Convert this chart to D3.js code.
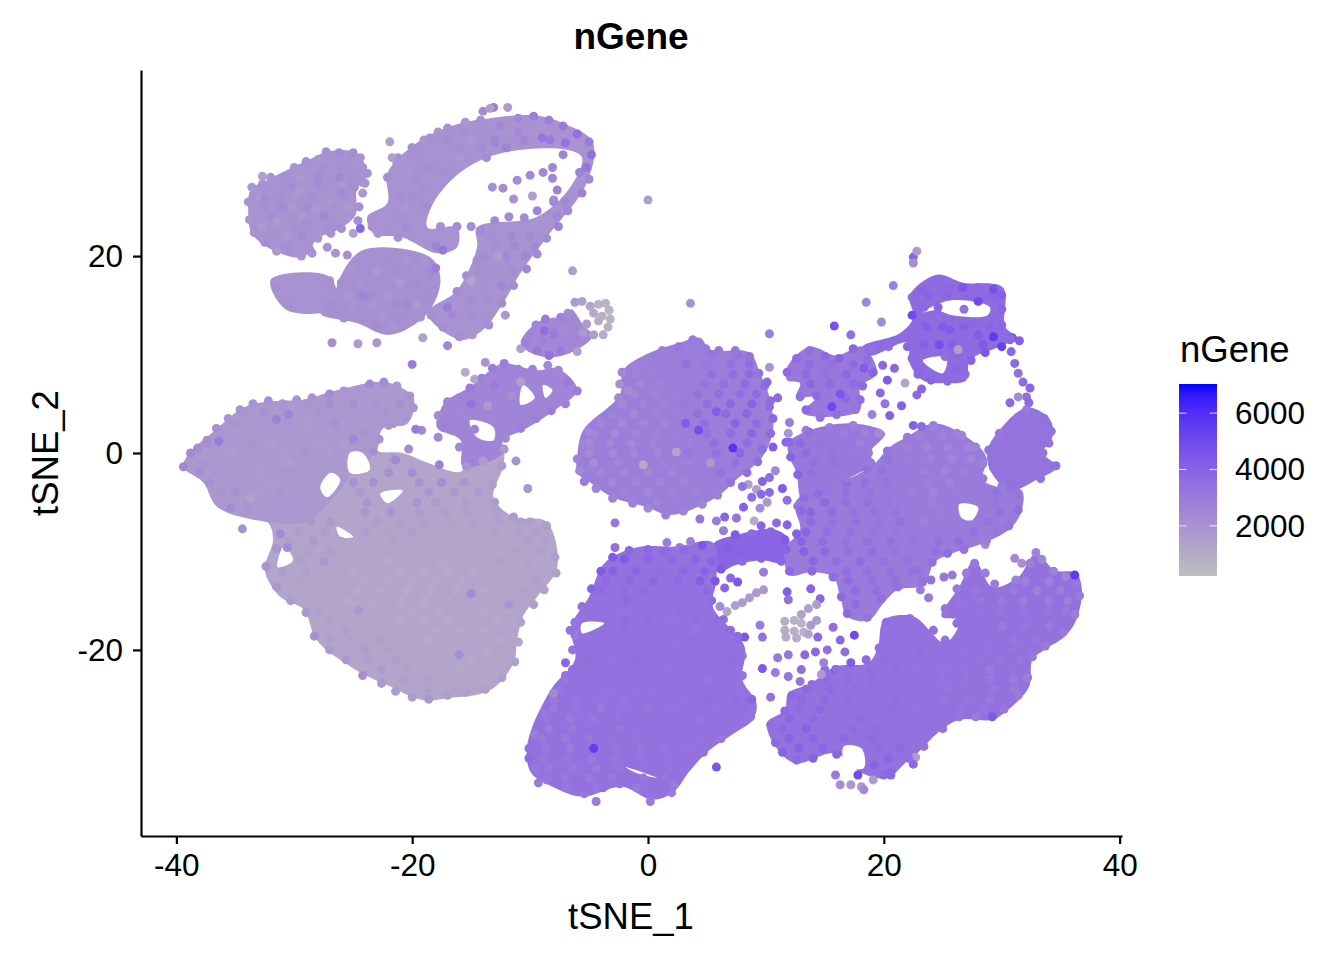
<!DOCTYPE html>
<html>
<head>
<meta charset="utf-8">
<script src="https://cdn.jsdelivr.net/npm/d3@7"></script>
<style>
  body { margin: 0; background: #fff; }
  text { font-family: "Liberation Sans", Arial, sans-serif; fill: #000; }
</style>
</head>
<body>
<svg></svg>
<script>
const w = 1344;
const h = 960;

// Tick labels
const xTicks = [-40, -20, 0, 20, 40];
const yTicks = [-20, 0, 20];
const legendTicks = [2000, 4000, 6000];

// The cells overlap too heavily to read one by one, so the dense parts of the
// map are cluster outlines (tSNE_1, tSNE_2) filled at the cluster's typical nGene
const outlineGenes = [2050, 2050, 2100, 2050, 2500, 1300, 1800, 2600, 2900, 3100, 3650, 3900, 3000, 3100, 3300, 3400, 3400];
const outlines = [
  [[-33.7,26.7],[-32,27.9],[-28.9,29.7],[-27.2,30.6],[-24.8,30.5],[-23.8,28.4],[-24.7,26.7],[-24.8,24.2],[-26.4,22.6],[-28,21.8],[-29.2,19.9],[-31.8,20.6],[-33.6,22.3],[-33.9,24.4]],
  [[-32,17.6],[-27,17.9],[-26.5,14.8],[-30.6,14.5]],
  [[-26.1,17.9],[-24.2,20.6],[-18.5,19.9],[-17.6,17.6],[-18.7,14.2],[-21.9,12],[-24.7,13.2],[-27.8,14.2],[-26.7,15.8]],
  [[-22.1,28.4],[-19.6,31.5],[-16.5,33.3],[-13.4,34],[-9.7,34.3],[-7.2,33.5],[-4.7,31.6],[-5.2,27.4],[-8.6,21.9],[-10.8,18.3],[-12.3,15.2],[-14,12.5],[-15.9,11.5],[-18.7,14.2],[-16.2,16.5],[-14.5,20.9],[-14.5,22.9],[-9.4,24],[-6.6,27],[-5.6,30],[-6.9,30.8],[-12.3,30.5],[-15.7,28.7],[-18.2,25.4],[-18.7,22.9],[-16.2,22.9],[-16.2,20.9],[-17.9,20.3],[-20.8,21.9],[-23.3,22.3],[-23.8,24],[-22.1,25.4]],
  [[-10.8,11.2],[-9.2,13.4],[-6.9,13.9],[-6.5,14.6],[-5.5,13],[-4.7,11.9],[-6,10.5],[-8.1,9.7],[-10,10.2]],
  [[-39.4,-1.4],[-38.8,0.1],[-36.9,2.1],[-34.3,4.6],[-32.3,5.2],[-29.2,5.4],[-26.9,6.2],[-23,7.2],[-21.9,7.1],[-19.9,5.6],[-20.4,3],[-22.5,2.5],[-23,0.3],[-20.8,0],[-18.7,-1],[-15.9,-1.9],[-15.1,-0.4],[-13.6,0.6],[-12.3,0.3],[-12.3,-1.4],[-13.1,-4.5],[-11.4,-6.5],[-8.6,-7],[-7.7,-11.6],[-9.4,-14.6],[-10.6,-16.6],[-11.1,-19],[-11.4,-21.3],[-13.4,-24.1],[-17,-24.9],[-19.1,-25.1],[-22.1,-23.6],[-25.1,-21.8],[-28.1,-19],[-29.2,-15.9],[-31.2,-14.6],[-32.5,-11.9],[-31.8,-8.8],[-32.3,-7],[-36.5,-5.5],[-37.7,-3]],
  [[-39.4,-1.4],[-38.8,0.1],[-36.9,2.1],[-34.3,4.6],[-32.3,5.2],[-29.2,5.4],[-26.9,6.2],[-23,7.2],[-21.9,7.1],[-19.9,5.6],[-20.4,3],[-22.5,2.5],[-23,0.3],[-25,-2],[-27,-5],[-29,-7],[-32.3,-7],[-36.5,-5.5],[-37.7,-3]],
  [[-17,5.4],[-15.1,6.7],[-13.6,8.2],[-12.3,9.1],[-9.4,8.4],[-7.7,8.6],[-6,6.4],[-8.1,4.2],[-10.6,2.3],[-12.3,1.3],[-12.3,0],[-15.7,-1.4],[-15.9,1.3],[-17.9,2.6],[-17.6,4.4]],
  [[-6,-0.4],[-5.5,2.3],[-2.4,5.9],[-2.1,8.4],[0.2,10.2],[2.7,11.2],[4.4,11.7],[5.3,10.5],[8.6,10.2],[9.5,8.1],[10.3,5.7],[10.6,2.3],[9.7,-0.4],[7.5,-2.7],[5.8,-4.5],[1.9,-6.3],[-0.1,-5.5],[-3,-4.5],[-4.9,-3],[-6,-2]],
  [[11.8,8.7],[13.7,10.8],[16,9.9],[18.2,10.8],[19.4,8.1],[18,6.7],[18,4.4],[16,3.7],[13.1,4.1],[14.3,5.7],[12.6,5.7],[12.9,7.1],[11.8,7.4]],
  [[22.2,16],[24.5,18.1],[26.7,17.3],[30.1,16.8],[30.3,12.8],[31.3,11.7],[29.8,10.8],[27.3,9.4],[27,7.4],[25.3,7.1],[23.3,7.4],[22.2,9.1],[22,11.2],[18.8,9.9],[18.2,10.8],[21.4,12.2],[22.5,13.8]],
  [[5.5,-9.3],[7.6,-8.3],[10.8,-7.8],[12,-8.9],[11.6,-11.1],[9.5,-10.9],[7.4,-11.4],[5.9,-12.1]],
  [[12.6,-4.8],[16.9,-2.7],[19.1,-1.2],[20.5,0.6],[21.9,1.6],[24.2,3],[26.4,2.1],[28.7,-0.4],[28.4,-2.7],[29.8,-3.5],[31.7,-3.8],[31.7,-5.8],[30.8,-7.6],[28.6,-9.1],[25.8,-10.2],[24.3,-11.1],[23.4,-13.4],[21.2,-13.9],[20,-15.2],[18.7,-17],[16.9,-16.6],[16.3,-14.6],[15.7,-12.6],[13.8,-12.1],[12,-12.4],[11.6,-9.8],[12.9,-7.8],[12.5,-5.8]],
  [[11.9,1],[13.7,2.3],[17.4,3],[20.1,2],[18.8,0],[19.1,-1],[16.9,-2.7],[15.2,-4.1],[13.1,-4.8],[12.6,-2],[12,-0.4]],
  [[29.6,2],[32.1,4.6],[34.1,3.4],[34.3,1.6],[33.5,0],[34.7,-1.4],[33,-2.7],[30.7,-3.8],[29,-1.7],[28.8,0.3]],
  [[-10.3,-30.5],[-9.9,-28.1],[-8.1,-23.8],[-6.2,-21],[-6.5,-17.6],[-5,-14.6],[-3.7,-11.2],[-1,-9.6],[2.4,-9.5],[5.5,-9.1],[5.8,-12.9],[5.5,-15.6],[8.2,-19.7],[8,-23],[9.2,-25.4],[8.9,-27.1],[7.4,-28.4],[5.2,-30.2],[3.6,-32.2],[2.1,-34.5],[0.3,-35.2],[-2.2,-33.9],[-5.6,-34.9],[-8.1,-33.9],[-9.9,-32.5]],
  [[20,-17],[22.5,-16.6],[25.2,-19.3],[26.4,-17],[24.9,-16.6],[26.4,-13.6],[27.7,-10.9],[29.2,-13.6],[31.4,-12.6],[32.9,-10.2],[34.5,-11.9],[36.3,-12.2],[36.8,-13.9],[36.3,-17],[35.3,-18.7],[33.6,-20],[32.6,-21],[32.3,-23.8],[30.2,-26.4],[29.2,-27.1],[26.4,-27.1],[24.6,-28.4],[23.1,-30.2],[21.8,-31.5],[20.3,-33],[18.1,-32.5],[15.9,-30.5],[12.5,-31.5],[10.8,-29.8],[10.1,-27.4],[11.6,-26.1],[11.9,-24.4],[13.8,-23.4],[15.9,-21.7],[18.7,-21.3],[19.5,-19.7]]
];

// Empty patches inside the clusters
const gaps = [
  [[-26.9,-2],[-26.1,-2.7],[-27.2,-4.5],[-27.8,-3.5]], [[-25.3,0],[-24.2,0],[-23.6,-1.7],[-25.3,-2]],
  [[-26.4,-7.5],[-25,-8.5],[-26.1,-8.5]], [[-22.7,-4.1],[-20.8,-3.8],[-22.1,-5.1]], [[-30.9,-9.5],[-30.1,-10.9],[-31.4,-11.6]],
  [[-15.1,3.3],[-13.1,2.6],[-13.1,1.3],[-14.5,1.6]], [[-10.6,6.9],[-9.6,5.6],[-10.8,4.9]], [[-8.9,6.9],[-8.1,6.4],[-8.7,5.6]],
  [[-17.4,19.3],[-16.8,17.6],[-17,16]], [[26.4,-5.2],[28,-5.5],[27.5,-6.8],[26.6,-6.6]], [[-5.6,-17.3],[-3.7,-17.3],[-5.6,-18.3]],
  [[-1.9,-31.9],[0.8,-33],[-1,-32.5]], [[16.6,-29.8],[18.1,-30],[18.3,-32],[16.8,-31.8]], [[23.3,14.3],[25.6,15.5],[29,14.8],[28.8,14],[25.8,14],[24.5,14.5]],
  [[23.3,9.4],[25.3,9.7],[25,8.1]]
];

// Cells: [tSNE_1, tSNE_2, nGene]
const topLeftCells = [
  [-33.9,25.5,2000],[-33.8,23.7,1900],[-33.6,27,1900],[-33.4,22.4,2000],[-32.7,27.3,2100],[-32,28,2000],[-31,27.5,2100],[-30,29,2000],[-29,29.6,2100],[-28,29.8,2000],[-27.3,30.6,2100],[-26.2,30.5,2300],[-25,30.5,2200],[-24.2,29,2000],[-23.8,28.4,2100],[-24.2,27.5,2100],[-24.2,26.4,1800],[-24.5,25,2100],[-24.6,23.6,2200],[-25.5,24,2000],[-26,22.8,2100],[-27,22.5,2100],[-28,21.8,2000],[-28.7,20.7,2100],[-29.4,20,2000],[-30.4,20.6,2200],[-31.5,20.5,1700],[-32.5,21.4,2200],[-32.7,28.1,1500],
  [-31,25,2300],[-29.6,26.6,1800],[-28,27.3,2300],[-27,25.5,1800],[-26.2,28,2400],[-29,23.4,2200],[-31.5,23.5,1700],[-32.5,25.8,2300],[-26,26.5,2300],[-28.2,24.8,1700],
  [-28.5,20.3,2100],[-26.5,20.3,2000],[-25.5,20.1,2100],[-27.2,20.9,1900],[-26.9,22.3,2100],[-24.4,22.8,3900],[-25,22.3,1500],[-22.9,22.3,2000],[-21.9,31.6,1400],[-21.7,30,1400],[-24.4,30,2000],[-24,27.4,2000],[-26.8,11.2,2200],[-24.6,11.1,1700],[-23,11.2,1900],[-6.4,18.5,1500],[-12.1,14,1800],[-19.1,11.7,1400],[-17,10.9,2500],[-11.4,25.8,2000],[-9.8,26.1,1500],[-13.1,35.1,3000],[-11.9,35.1,1600],[-14,34.7,2300],[-13.4,35,1500],
  [-13.2,27,2200],[-12.3,26.9,2300],[-11.1,27.7,2300],[-10,28.2,2400],[-8.9,28.5,2400],[-8.1,29,2500],[-7.2,30.3,2600],[-7.7,26.7,2700],[-8.1,27.9,2600],
  [-22.1,28,2100],[-21.3,29.4,2000],[-20,31,2200],[-18.5,32,2100],[-17,33,2100],[-15.5,33.6,1900],[-14.2,33.8,2200],[-12.5,33.2,2400],[-11,34,2500],[-9.7,34.2,2900],[-8.4,33.8,2800],[-7.2,33.2,3000],[-6,32.4,3400],[-5,31.6,3000],[-4.8,30.3,3500],[-5.2,29,3200],[-5,27.8,2500],[-5.6,26.4,2700],[-6.8,24.6,2500],[-7.6,23,2600],[-8.6,21.8,2300],[-9.4,20.2,2300],[-10.3,18.7,2400],[-11.4,17,2300],[-12.4,15.2,2300],[-13.5,13,2200],[-14.9,12,1900],[-16,11.8,2200],[-17.4,12.8,2200],[-18.4,14,2200],
  [-14.2,22.6,2300],[-13,23.6,2400],[-11.8,24,2300],[-10.5,23.9,2300],[-9.4,24.6,2600],[-8,25.7,2400],[-14.5,19.6,2200],[-15.4,18,2100],[-16.2,16.4,2300],[-15,17.5,1300],[-19,27,2100],[-20,26,2200],[-17.4,28.6,2200],[-16,30,1800],[-13,31.5,2600],[-11,32.5,2400],[-9,32,3200],[-7,31.5,3400],[-18,21,2600],[-17.4,20.6,3200],[-22,24.6,1900],[-23.4,23,2100],[-21.2,21.9,2200],[-20,22,2200],[-12.7,20,1600],[-20.5,15,2400],[-22,18,2100],[-24.2,16,2600],[-25.8,13.7,2100],[-30.5,15,2100],[-31.5,16.8,2200],[-28.8,16.5,2000],[-27,17.5,2100],[-18,18.8,2900],[-17,14.8,2900]
];
const middleCells = [
  [-10.8,10.6,1500],[-10.4,11.2,2800],[-10,12,2600],[-9.5,13,2600],[-8.7,13.6,3000],[-8,13.3,2500],[-7.4,13.8,2800],[-6.8,14.2,2300],[-6.2,15.3,1800],[-5.6,15.4,1500],[-4.9,14.9,1200],[-4.2,15.1,700],[-3.6,15.2,600],[-3.3,14.5,600],[-3.2,13.6,700],[-3.4,12.8,700],[-3.8,12,900],[-4.6,12,1500],[-5.2,13.1,1700],[-6,12,2500],[-6.5,11,2500],[-7.4,10.4,3000],[-8.4,9.9,3400],[-9.4,10.4,3100],[-8,12,3000],[-9,11.4,2700],[-7,12.5,2300],[-8.8,12.4,3600],[-6,10.3,1500],[-15.5,8.2,1000],[-14.7,7.5,1200],[-13.8,9.2,2000],[-20,9,3000],[-4.2,13.4,900],[-4.6,14.2,1100],[-5.5,12.2,1800],[-3.9,13.9,800]
];
const leftCells = [
  [-39.4,-1.4,2500],[-38.8,0,2400],[-38.2,0.5,2300],[-37.4,1.3,2200],[-36.6,2.5,2100],[-35.6,3.5,1900],[-34.6,4.4,2000],[-33.5,5,2000],[-32.2,5.3,2100],[-31,4.8,1900],[-29.8,5.4,2000],[-28.5,5.6,2000],[-27,6,2300],[-25.8,6.3,2000],[-24.6,6.3,2000],[-23.6,7,2400],[-22.4,7.2,2300],[-21.3,6.8,1900],[-20.2,5.8,2000],[-19.9,4.6,2000],[-20.6,3.6,1900],[-22,2.8,2000],[-22.8,1.4,2000],[-23.3,0.2,2100],[-19.2,2.3,2500],[-17.8,1.6,2300],[-20.3,0.4,2300],[-21.6,-0.6,1800],
  [-38,-1.9,2200],[-37.2,-3,2100],[-36.2,-4.2,2000],[-35.4,-5.6,2300],[-34,-5.4,2000],[-32.8,-6.3,1900],[-31.2,-8.2,2400],[-30.6,-9.6,2300],[-32.4,-11.5,1900],[-31.5,-13.6,1800],[-30.3,-15,1700],[-29,-16.2,1800],[-28.3,-18.6,2100],[-27,-20,1800],[-25.6,-21,1800],[-24.2,-22.6,2100],[-22.6,-23.4,1800],[-21.4,-24.2,1700],[-20,-24.8,1700],[-18.6,-25,1900],[-17,-24.6,1500],[-15.4,-24.3,1500],[-13.8,-24,1400],[-12.4,-22.8,1600],[-11.3,-21.2,1400],[-11,-19.2,1300],[-10.8,-17.2,1400],[-9.7,-15.4,1500],[-8.8,-13.9,1400],[-7.8,-12.2,1500],[-7.9,-10.6,1600],[-8.6,-9,1500],[-8.6,-7.4,1700],[-10,-7,1500],[-11.4,-6.5,1700],[-13,-5,1500],[-13.2,-3.2,1600],[-12.4,-1.3,1700],[-11.2,-0.8,2000],[-10.2,-3.6,1900],
  [-25,1.4,2500],[-30.5,3.9,2600],[-31.5,3.4,2800],[-36.4,1.2,3100],[-33.7,-4.6,1400],[-27.5,-11,1800],[-15,-14.3,2300],[-24.5,-16,1800],[-11.8,-15.4,2000],[-16,-20.5,2200],[-31.5,-9.7,1900],[-34.4,-7.7,2000],[-21.4,-0.7,2400]
];
const strandCells = [
  [-17,5.2,2700],[-16,5.6,2600],[-15.1,6.6,3000],[-14.1,7.6,2800],[-13.2,8.6,2900],[-12.2,9.1,2900],[-11,8.5,2700],[-9.8,8.5,2600],[-8.5,8.9,2300],[-7.6,8.4,2500],[-6.8,7.2,3000],[-6,6.3,2900],[-7,5,2800],[-8.2,4.3,3000],[-9.5,3.5,2900],[-10.8,2.5,2900],[-12.1,1.5,2500],[-12.2,0.4,1800],[-14,-0.8,1700],[-15.4,-1.4,2000],[-16,0.6,2400],[-17.4,2.6,2700],[-17.8,3.8,2300],[-15.5,3.7,2500],[-13.6,4.8,1700],[-11.6,5.8,2200],[-10,4,2600],[-13,6.8,3000],[-15,5,3300],[-10.8,7.2,1500],[-14.7,2.4,2600],[-17.7,-1.2,2800],[-19.7,2.4,3000]
];
const centerTopCells = [
  [-6,-0.6,2700],[-5.8,-1.8,2400],[-5.5,0.8,2600],[-5,2.2,2500],[-4,3.2,2600],[-3,4.3,2800],[-2.5,5.6,2500],[-2.4,7,2200],[-2.2,8.2,2500],[-1.1,8.8,2600],[0,9.6,2700],[1.2,10.4,2900],[2.6,10.8,3100],[3.8,11.5,3000],[4.9,10.6,3000],[6,10.4,3100],[7.4,10.4,3100],[8.6,9.8,3300],[9.4,8.1,3300],[9.9,6.8,3600],[10.4,5.3,3600],[10.6,3.5,3800],[10.4,2,3700],[9.7,0.4,3600],[9.3,-0.9,3500],[8.4,-2,3500],[7,-3,3400],[5.9,-4.3,2800],[4.6,-5.2,2600],[3,-5.9,2700],[1.5,-6.3,2700],[0,-5.6,2500],[-1.3,-5.1,2700],[-3,-4.6,2700],[-4.4,-3.6,2600],[-5.4,-2.9,3000],
  [-0.4,-1.2,1100],[2.4,0.1,1300],[5.3,-1,1700],[4.3,2.3,4800],[7.2,0.5,5800],[5.8,4.2,4200],[3.2,3,4200],[2.4,8,2900],[-1.7,6.4,2300]
];
const centerRightCells = [
  [11.8,8.2,3700],[12.6,9.6,3600],[13.7,10.4,3500],[15,9.8,3700],[16.2,9.6,3900],[17.4,10.6,3900],[18.6,9.4,3600],[19.1,8.2,4000],[18.2,6.8,3700],[18,5.4,3600],[17.6,4.4,3200],[16,3.9,3500],[14.6,3.6,3300],[13.4,4.4,3700],[14.3,5.8,3600],[15,8,3400],[16.3,6,4500],[15.6,4.7,5100],
  [10.1,7.2,3800],[10.3,8.7,1900],[10.3,4.7,3600],[11,5.6,3700],[12.9,5.7,3400],[12,3.1,2900],[11.9,2,2000],[11.7,1.1,3900],[10.6,0.6,4200],[13.4,2.3,2800],[19,3.9,2700],[20.5,3.8,4000],[21.5,4.8,4100],[20.1,5,3300],[21.8,7.1,1300],[22.8,5.9,3800],[23.2,6.5,3900],[19.9,8.9,3700],[20.9,8.6,3800],[20.3,7.4,4400],[19.7,6.1,3900],[18.3,8.6,4300],[22.5,2.8,4100],[23.2,2.7,3700],
  [22.4,15.8,3600],[23.2,16.5,3900],[24.5,17.6,3700],[25.6,16.8,3800],[26.7,16.8,4500],[28,16.8,3700],[29.3,16.6,4700],[30,16,4100],[30,14.6,3900],[30,13,3800],[30.9,11.7,4300],[31.5,11.4,4200],[30,10.8,5400],[28.6,10.2,4500],[27.4,9.4,4000],[26.9,8,3600],[25.4,7.3,3800],[24,7.4,3900],[22.9,8,3800],[22.4,9.6,3700],[22,10.8,3900],[20.4,10.8,3600],[19,10.4,3500],[22.4,14,5000],[23.6,12.8,4100],[25.6,12.5,4300],[27.6,13.2,3800],[28,12,4200],[26.3,10.5,1400],[25.2,9.8,3500],[24.7,11,4800],[26.8,14.6,3400],[28,15.4,5000],[29.3,11.8,5600],
  [22.5,19.9,3900],[22.8,20.5,1700],[22.5,19.3,2200],[20.8,17,2800],[18.5,15.3,2500],[15.8,12.9,4700],[19.8,13.3,2300],[17.2,12,3500],[10.3,12.1,2900],[0,25.7,1500],[3.6,15.2,2000],
  [30.7,11.5,3700],[30.8,10.3,3800],[31.1,9.1,3700],[31.4,8.1,3500],[31.8,7.2,3600],[32.4,6.6,3800],[32.1,5.7,3500],[31.4,5.7,2300],[30.7,5.1,3700],[32.3,5.1,3700]
];
const lowerCells = [
  [-2.8,-7.1,3200],[4.4,-6.7,3200],[5.8,-6.9,3000],[6.5,-6.5,3900],[7.5,-6.6,3300],[9,-6.9,1000],[9.6,-7.4,3900],[6.4,-7.9,2900],[8.1,-5.5,4100],[9.5,-5.6,2300],[10.1,-5,1800],[9.2,-3.7,1500],[8.5,-3.2,1500],[8,-3.4,3300],[8.8,-4.5,3600],[9.6,-4.2,3800],[9.7,-2.9,4000],[10.3,-2.5,3600],[10.8,-1.8,2400],[10.3,-4,3700],[11.4,-3.6,4200],[11.8,-4.8,3500],[10.9,-7.1,3700],[11.8,-7.3,4000],
  [9.8,-12.1,3000],[11.8,-14.1,4300],[11.9,-14.9,3500],[13.8,-13.8,4000],[14.6,-14.8,3800],[7.6,-13.1,4500],[7,-12.7,3800],[6.5,-13.7,3900],[6.1,-15.6,2200],[9.5,-17.5,3000],[9.7,-18.7,3400],[8.2,-18.7,4500],[14.4,-18.7,3700],[13.8,-17.5,1700],[13.3,-20.5,3800],[11.9,-20.5,3200],[9.7,-21.9,4400],[11,-20.8,3000],[10.8,-22.3,3000],[11.9,-22.7,3200],[12.9,-23.2,3200],[14.9,-21.3,2700],[14.7,-22.5,1700],[14.2,-20.2,3800],[15.7,-17.7,3500],[17.5,-18.5,5000],[16.3,-19,3800],[16.7,-20.2,3500],[15.2,-20,3500],[17.2,-21.3,4300],[15.9,-22,4500],[10.4,-24.8,3300],[5.8,-31.9,4500],[22.7,-30.9,1700],[22.5,-31.6,3800],
  [32.9,-10.1,2600],[31.1,-10.7,2400],[31.7,-11.2,2100],[25.1,-12.6,3200],[25.8,-12.4,3100],[28.6,-9.3,2400],[23.8,-14.7,3000],[23.1,-13.9,3000],[23,-11.9,3300],[24,-12.9,3300],[36.2,-12.4,5600],
  [16.3,-33.7,2200],[17.2,-33.7,1800],[18.1,-33.9,1700],[19.1,-33.2,1700],[18.3,-34.2,2400],[15.9,-32.7,3000],[17.8,-32.7,4900],[20,-32.7,3700],[20.6,-32.7,3800],
  [-7,-21.3,3900],[-4.4,-35.4,3000],[0.2,-35.4,2900],[2,-34.5,3000],[-9.3,-33.5,3000],[-10.1,-31,3700],[-2.8,-9.6,3500],[1.6,-9.1,2900],[3.6,-9,2700],[2.7,-9.6,3000],[-6.2,-17.2,3200],[-6.2,-18.5,3000],
  [6.7,-16.1,1300],[7.4,-15.5,1500],[8,-15.2,1700],[8.6,-14.7,1700],[9.2,-14.2,1800],[9.8,-13.9,1800],[11.6,-17.1,900],[12.4,-17,800],[13,-17.3,700],[11.6,-18,900],[12.4,-18.1,800],[13.2,-18.2,800],[11.7,-18.7,1000],[12.6,-18.8,900],[13.6,-18.4,1300],[14.3,-17,1700],[13,-16.4,1400],[13.6,-15.8,1500],[14.3,-15.4,1600]
];
const massCells = [
  [-10.1,-30,3400],[-9.6,-28.6,2900],[-8.8,-26.4,3100],[-8,-24.4,2400],[-7,-22.6,3300],[-6.4,-20,3300],[-6.6,-18,3400],[-5.6,-15.6,3400],[-4.8,-13.8,3900],[-4,-12,4300],[-3,-10.6,4300],[-1.6,-9.9,3900],[0,-9.8,3800],[1.4,-10,3700],[3,-9.9,3700],[4.6,-9.4,4400],[5.4,-11,3900],[5.7,-13,4500],[5.4,-15,3600],[6.4,-16.9,3500],[7.6,-18.6,3700],[8,-20.6,3300],[8,-22.6,3200],[8.8,-25,3900],[8.7,-26.8,3300],[7.2,-28,3300],[6.2,-29,3100],[4.7,-30.4,3300],[3.3,-31.8,3400],[2.2,-33.6,3000],[-1,-34,3000],[-2.4,-33.6,3400],[-3.8,-34,3300],[-5.4,-34.6,3200],[-7,-34,3100],[-8.6,-33.2,3100],[-9.6,-32,3100],
  [12.7,-5.4,3300],[14.4,-4.2,3600],[16.8,-3,3600],[18.6,-1.6,3400],[20.3,0.2,3200],[22,1.6,3000],[24.2,2.8,2800],[26.2,2,2700],[27.8,0.6,2700],[28.4,-1.1,2800],[28.4,-2.6,3000],[30,-3.4,3000],[31.4,-4.2,3200],[31.4,-5.8,3500],[30.6,-7.4,3300],[28.7,-8.9,2900],[26.8,-9.8,3400],[25.4,-10.2,3600],[24.1,-11.1,3500],[23.3,-13.1,3300],[21.2,-13.6,3400],[19.8,-14.8,3500],[18.6,-16.7,3300],[16.9,-16.3,3700],[16.4,-14.6,3700],[15.7,-12.6,3600],[13.9,-12,3800],[12,-12,3800],[11.7,-9.8,3900],[12.6,-8.2,4100],[13,-5.9,3700],
  [7.4,-8.3,4300],[8.8,-8.2,3700],[10.4,-8,3800],[11.6,-8.8,4300],[11.3,-11,3800],[9.6,-10.7,3900],[8,-11,3700],[6.2,-11.8,4300],[6.8,-9.6,4100],
  [12,1.1,3800],[13.7,2.1,3400],[15.4,2.6,3000],[17.4,2.8,2800],[19.6,2,2300],[18.7,0,3000],[18.9,-1,3000],[16.8,-2.5,3000],[15.2,-3.9,3200],[13.2,-4.6,3600],[12.7,-2.2,3900],[12.1,-0.4,3900],
  [29.8,2,3100],[31,3.2,3300],[32.1,4.4,3000],[33.6,3.5,3400],[34.2,2.2,3400],[34,1,3400],[33.5,0,3200],[34.6,-1.3,3500],[33.3,-2.6,3400],[31.8,-2.8,3300],[30.7,-3.6,3400],[29.3,-1.5,3300],[28.9,0.3,3400],
  [20.2,-17.2,3600],[22.2,-16.8,3400],[24.2,-18,3400],[25.2,-19,3300],[26.2,-17.3,3500],[25.2,-15.8,3200],[26.2,-13.8,3000],[27,-12.2,2900],[27.7,-11.2,3100],[28.6,-12.2,2900],[29.4,-13.3,2900],[31.2,-12.9,2800],[32.4,-11.2,2700],[33.4,-10.8,2500],[34.4,-12,2700],[35.4,-12.6,2600],[36.3,-13.4,3100],[36.6,-14.5,3000],[36.2,-16.4,2900],[35.2,-18.2,3100],[33.7,-19.6,3000],[32.6,-20.7,3100],[32.2,-22.8,2900],[31.4,-24.6,3000],[30.2,-26,3200],[29.2,-26.8,4400],[27.8,-26.8,2900],[26.4,-26.8,3200],[25,-28,3300],[23.4,-29.8,3400],[22.1,-31,3500],[20.6,-32.4,3800],[19.2,-31.7,4000],[16,-30.6,3900],[14,-31,4100],[12.6,-31.2,3700],[11.4,-30.4,4000],[10.8,-29.4,3700],[10.4,-27.6,3500],[11.6,-26.2,3700],[12.2,-24.6,3700],[13.9,-23.5,3500],[16,-22,3500],[18.5,-21,3700],[19.6,-19.8,3500]
];

// Cells inside the clusters, one row per tSNE_2 value: [tSNE_2, tSNE_1, nGene, tSNE_1, nGene, ...]
const upperRows = [
  [29,-29.2,2000,-27.6,2200,-26,2100],[28,-30.8,2100,-29.4,1800,-27.9,2300,-26.5,2000,-25.1,2200],[27,-31.6,2000,-30.2,2300,-28.8,2000,-26,1800,-24.9,2200],
  [26,-32.9,1800,-31.4,2200,-30,1900,-28.5,2300,-25.7,2200],[25,-32.5,2100,-30.2,1800,-28.9,2300,-27.6,2000,-25.4,1800],[24,-33,2000,-31.9,2300,-30.4,2000,-29.2,1800,-27.5,2400,-26.2,2000],
  [23,-32.8,1700,-31,2000,-30,2200,-28,2000,-26.9,2200],[22,-32,2100,-30.7,1800,-29.4,2300,-28.2,2000],[21,-31,2200,-29.7,1900],
  [19.5,-23.5,2100,-22,2300,-20.5,1900,-19,2000],[18.5,-25,2000,-23,1800,-21.3,2200,-19.7,2000,-18.3,2400],[17.3,-26,2200,-24.5,2000,-22.8,2100,-21,1700,-19.5,2300],
  [16,-25.4,1900,-23.6,2300,-22,1800,-20.2,2100,-18.7,2200],[15,-27,2200,-25,2000,-23.3,1900,-21.4,2300,-19.7,1800],[13.8,-24.2,2100,-22.6,1900,-21,2200,-19.3,2100],[12.8,-23,2300,-21.6,1900],
  [32.6,-17.8,2000,-15.6,2200,-14,2100],[31.8,-19,1900,-17,2300,-15,1800,-13,2500,-10.5,2500,-8.3,3000],[31,-20,2100,-18,2000,-16,2200,-14,2300,-12,2600],
  [30,-21.2,2200,-19.4,2100,-17.4,1900,-15.4,2100,-13.7,2300],[29,-20.4,1900,-18.6,2200,-16.6,2100],[28,-21.4,2000,-19.6,2200,-17.8,2000],[26,-21,2200,-19.3,2100],[25,-20.6,1800,-18.8,2300],
  [24,-22.4,1900,-21.4,2100,-19.8,2000],[23,-22,2100,-20.5,2300,-17.6,2200,-16.2,2300,-15,2200],[22,-13.3,2200,-11.6,2400,-10,2300],[21,-13,2200,-11.3,2400,-9.6,2400],
  [20,-14,2300,-12,2400,-10.4,2500],[18.5,-14.4,2200,-12.8,2100,-11.4,2300],[17,-14,2100,-12.4,2500],[15.5,-15,2300,-13.4,2200],[14,-16.6,2400,-15,2200,-13.8,2100],[25.5,-8,2600,-7,2400],[28.5,-5.8,2700],[24,-7.7,2500]
];
const leftRows = [
  [5,-31,1900,-29,2000,-27,2200,-25,2100,-23,2000,-21,2100],[4,-34,1900,-32.6,2100,-30,1800,-28,2000,-26,1800,-24,1900,-22.2,2000],[3,-35,2000,-33.4,1800,-30.6,2000,-29,1700,-26.6,2100,-23.4,1800,-21.6,1900],
  [2,-36.2,2000,-34.4,1800,-30,1900,-26,1800,-24,2000],[1,-37.4,2200,-35.5,1900,-33.6,2000,-31.8,1700,-29.9,1800,-28,1700,-25.8,1700],[0,-37,1900,-35.2,1700,-33,1800,-31.3,1700,-29,2000,-27.1,1700],
  [-1,-37.8,2000,-36,1800,-32.5,1700,-30.4,1600,-28,1800,-26.4,1900],[-2,-36.5,1900,-33,1700,-31,1900,-29.4,1900,-22,2100,-20,2200],[-3,-36,1800,-34,1900,-32,1700,-30.3,1800,-25,2100,-23.3,2100,-19.4,2000,-17.5,2200,-15.6,1900],
  [-4,-35,2100,-33,1700,-31.3,2000,-24.4,1800,-18.6,1900,-16.4,1800,-14.4,1700],[-5,-33.6,1900,-31.6,1800,-29.8,1900,-23.8,1900,-19.6,2000,-18,1700,-15.4,1600],[-6,-31,1900,-29.6,1800,-24,1800,-21.8,1900,-19.4,1700,-17.2,1600,-15.4,1500,-12.8,1500],
  [-7,-28.6,1800,-27,1700,-23,1600,-21,1500,-19,1500,-16.8,1400,-14.8,1400,-12.6,1500,-10.8,1500],[-8,-29.6,1600,-27.4,1600,-24,1600,-22,1400,-20,1500,-18,1300,-16,1300,-13,1400,-11,1400,-9.4,1500],
  [-9,-30.4,1500,-28.4,1700,-26,1400,-23.6,1300,-21.6,1400,-19.4,1300,-17.4,1200,-15.4,1300,-12.4,1300,-10.2,1500],[-10,-28.8,1400,-27,1500,-25,1300,-23,1200,-20.8,1300,-18.6,1200,-16.4,1100,-13.4,1300,-11.4,1400,-9,1400],
  [-11,-29.4,1600,-26.2,1300,-24.2,1200,-22,1100,-20,1200,-17.6,1100,-15.6,1200,-12.6,1400,-10.2,1400],[-12,-31,1600,-29,1500,-27,1300,-25,1100,-23,1200,-21,1000,-19,1100,-17,1000,-14.8,1100,-12.4,1200,-9.8,1300],
  [-13,-29.4,1400,-26.2,1200,-24,1100,-22,1000,-20,1100,-18,1000,-15.8,1100,-13.6,1200,-11.4,1200,-9.4,1500],[-14,-28.8,1300,-26.6,1200,-24.6,1000,-22.6,1100,-20.4,1000,-18.4,1100,-16.2,1000,-14,1100,-12,1200,-10.4,1400],
  [-15,-27.6,1300,-25.4,1100,-23.2,1100,-21,1000,-19,1000,-17,1100,-13,1200,-11,1300],[-16,-28,1500,-26,1300,-22,1200,-20,1100,-17.8,1000,-16,1200,-13.8,1100,-12,1200],
  [-17,-27,1400,-25,1300,-23,1200,-21,1100,-19,1100,-17,1100,-15,1200,-12.8,1100],[-18,-25.6,1500,-22.4,1300,-20,1200,-18,1100,-16,1100,-14,1100,-12,1200],
  [-19,-27,1500,-25,1400,-22.6,1400,-20.4,1300,-18.6,1100,-16.4,1200,-12.4,1100],[-20,-24,1600,-22,1400,-20,1300,-17.8,1200,-15.8,1200,-13.6,1100,-12,1200],
  [-21,-23.8,1600,-21.4,1500,-19.4,1300,-17,1200,-15,1100,-13,1200],[-22,-22.6,1700,-20.4,1400,-18.4,1300,-16,1100,-14,1200],[-23,-20.8,1500,-18.8,1500,-16.6,1200,-14.6,1300],[-24,-18.6,1500,-16.2,1400]
];
const centerRows = [
  [10,3.2,3000,5.5,3200,7.6,3300],[9,-0.4,2800,1.4,2900,3.2,3400,5,3100,7,3400,8.6,3500],[8,-1,2600,0.4,2800,3.9,3000,5.4,3400,7.2,3500,8.6,3600],
  [7,-0.6,2500,1,2700,3,3000,4.8,3200,6.4,3400,8.2,3600],[6,-1.2,2400,0.6,2600,2.4,2800,4.2,3300,6,3500,7.8,3500,9.2,3700],[5,-2.2,2400,-0.4,2500,1.4,2600,3.2,3000,5,3500,7,3800,8.8,3900],
  [4,-3,2500,-1.2,2400,0.6,2600,2.4,2800,4.2,3400,6.6,3700,8.4,3800],[3,-4,2400,-2.2,2400,-0.4,2500,1.4,2600,4.8,3500,7.4,3900,9.2,3600],[2,-4.6,2500,-2.8,2300,-1,2500,0.8,2700,2.6,2800,5,3300,7,3600,8.8,3800],
  [1,-5,2300,-3.2,2400,-1.4,2300,0.4,2600,3.6,2700,5.6,3500,8.4,3500],[0,-5,2400,-3,2300,-1.2,2500,0.8,2500,3.4,3100,5.8,3400,7.8,3800],[-1,-4.6,2300,-2.6,2500,1.2,2700,3.4,2700,5.6,3000,7.4,3400],
  [-2,-4,2600,-2,2400,0,2400,2,2600,4,2900,6.2,3300],[-3,-3,2400,-1,2600,1,2500,3,2600,5,3000],[-4,-2,2700,0,2500,2,2600,4,2700],[-5,0.8,2600,2.6,2800],
  [9,13.7,3600,15.6,3400,17.4,3700],[8,13.4,3600,16.8,3700],[7,13.8,3800,15.4,3600,17.4,3600],[5.5,16.8,3700],[2,14.8,3100,16.6,2900,18.4,2700],[1,12.9,3700,14.6,3300,16.4,3100,18,2800],[0,13.4,3600,15.6,3300,17.4,3000],[-1,14,3500,15.8,3300,17.6,3100],[-2,13.8,3400,15.6,3100],
  [14.8,23.4,3800,24.6,3900],[16,23.8,3900,25.4,3900,27,3800,28.6,3700,29.3,3900],[12.8,25,4200,26.8,4000,29,3900],[11,23.4,4000,25.8,4100,28.4,4300],[8.5,23,3800,26.2,3900],
  [1.8,23,2700,25,2700,26.6,2600],[0.6,22,2800,23.6,2600,25.4,2600,27.2,2600],[-0.6,20.4,3300,22.2,2900,24,2700,25.8,2500,27.4,2600],[-1.8,19.8,3300,21.6,3100,23.4,2800,25.2,2600,26.8,2800],[-3,18.4,3400,20.2,3200,22,3000,23.8,2700,25.6,2700,27.2,3000],[-4,16.8,3400,18.8,3200,20.6,3100,22.4,2900,24.2,2600,26,2900,28,3100,29.6,3400],
  [-5,15,3700,16.8,3400,18.6,3300,20.4,3100,22.2,3000,24,2800,29.4,3200],[-6,13.8,3900,15.6,3600,17.4,3300,19.2,3300,21,3200,23,3000,24.8,2900,29.8,3400],[-7,13.8,3700,15.6,3400,17.6,3400,19.6,3200,21.4,3300,23.4,2800,25.2,3000,28.9,3300],[-8,13.4,3900,15.2,3500,17.2,3400,19,3200,21,3100,22.8,3000,24.8,3100,27.6,3400,29.6,3200],
  [-9,13,3900,14.8,3600,16.8,3300,18.6,3400,20.6,3300,22.6,3200,24.6,3400,26.4,3500],[-10,13.2,4000,15,3700,17,3400,19,3500,21,3200,22.8,3100,24.4,3400],[-11,14,3800,16,3500,18,3600,20,3300,22,3300],[-12,16.8,3500,18.6,3400,20.6,3300,22.4,3300],[-13,17,3600,19,3400,21,3500],[-14,17.6,3600,19.4,3500],[-15.4,17.6,3600]
];
const lowerRows = [
  [-10.8,-2,4300,0,3900,2,3700,4,3900],[-12,-3,4000,-1,3800,1,3600,3,3800,4.8,4000],[-13,-3.6,3700,-1.6,3700,0.4,3800,2.6,3700,4.4,4100],[-14,-4,3600,-2,3600,-0.4,3700,1.6,3500,3.4,3500,5,3700],
  [-15,-4.2,3400,-1.8,3700,1.6,3400,3.6,3400],[-16,-4,3400,-2,3300,1,3500,2.8,3500,4.6,3500],[-17,-2,3600,0,3500,2,3300,4,3500,5.8,3600],[-18,-2,3500,0,3400,2,3400,4,3200,6,3400,7,3600],
  [-19,-6,3500,-4,3400,-2,3400,0,3400,2,3300,4,3500,6,3400,7.6,3500],[-20,-5.6,3500,-3.6,3500,-1.4,3500,1,3500,2.6,3400,5.2,3500,7,3400],[-21,-5,3500,-3,3300,-1,3600,1,3500,3,3400,5,3400,7,3500],[-22,-6.4,3500,-4.6,3300,-2.4,3300,-0.4,3400,1.6,3300,3.6,3400,5.6,3400,7.2,3300],
  [-23,-7,3100,-5,3300,-3,3300,-1,3400,1,3300,3,3400,5,3200,7,3400],[-24,-7.4,3200,-5.4,3400,-3.4,3300,-1.4,3300,0.6,3300,2.6,3400,4.6,3500,7.2,3400],[-25,-8,3100,-6,3200,-4,3300,-2,3200,1,3400,3,3300,5,3500,7.4,3600],[-26,-8,3000,-6,3200,-4,3000,-2,3300,0,3200,2,3300,4,3400,6,3300,8,3500],
  [-27,-8.6,3100,-6.6,3000,-4.6,3100,-2.6,3200,0.4,3300,2.4,3400,4.4,3200,6.4,3400],[-28,-8.4,2900,-6.4,3000,-4.4,3300,-2.4,3100,-0.4,3300,3.6,3300,5.4,3400],[-29,-9,3000,-7,3000,-5,3100,-3,3200,-1,3200,3,3400,4.4,3300],[-30,-8.6,3100,-6.6,2900,-4.6,5500,-2.6,3200,-0.6,3100,1.4,3200,3.4,3300],
  [-31,-8.8,3100,-6.8,3100,-4.8,3000,-2.8,3100,-0.8,3200,1.2,3300,2.8,3400],[-32,-8.4,3000,-6.4,3000,-4.4,3000,-2.4,3200,2,3200],[-33,-7,3100,-5,3000,-3,3100,-0.4,3100,1.4,3200],[-34,-4.4,3100,-0.4,3200],
  [-18,21,3400,23,3400],[-17.6,27.4,3400,28.4,3500,30,3000,32,3100,34,3000],[-16,28,3300,30,3200,31.8,3100,34,3100,35.4,3000],[-15,26.4,3200,28.2,3100,30,3000,31.8,2900,34,2900,35.6,2800],[-14,27.8,3100,31,3000,33,2800,35,2900],[-13,32,2800,34,2800],
  [-19,27.4,3300,29.2,3300,31,3100,33,3100],[-20,21,3500,23,3600,25,3400,27,3300,29,3200,31,3200],[-21,20,3600,22,3400,24,3300,28,3300,30,3200,31.6,3100],[-22,13,3500,15,3600,17,3500,19,3500,21,3500,23,3300,25,3300,27,3300,29,3000,31,3200],
  [-23,15,3600,17,3600,19,3600,21,3400,23,3300,25,3200,27,3200,29,3100,31,2900],[-24,13.4,3700,15.4,3700,17.4,3500,19.4,3500,21.4,3400,23.4,3300,25.4,3200,27.4,3300,29.4,3100,31,3000],[-25,13,3700,15,3700,17,3500,19,3400,21,3500,23,3400,25,3200,27,3200,29,3000],[-26,12.8,3600,14.6,3800,16.6,3500,18.6,3500,20.6,3500,22.6,3300,24.6,3400,26.6,3200,28.4,3200],
  [-27,12,3800,14,3700,16,3500,18,3600,20,3400,22,3500,24,3300],[-28,11.4,3700,13.4,4000,17.4,3700,19.4,3600,21.4,3500,23.4,3400],[-29,12,3900,14,3800,16.6,3700,19,3700,21,3400],[-30,12.8,4000,14.8,3900,19.6,3600,21.4,3700],[-31,20.4,3800]
];

const rows = [...upperRows, ...leftRows, ...centerRows, ...lowerRows];
const rowCells = rows.flatMap(r => d3.range(1, r.length, 2).map(i => [r[i], r[0], r[i + 1]]));

const allCells = [...rowCells, ...topLeftCells, ...middleCells, ...leftCells, ...strandCells, ...centerTopCells, ...centerRightCells, ...lowerCells, ...massCells];

const svg = d3.select("svg")
    .attr("width", w)
    .attr("height", h);

const x = d3.scaleLinear().domain([-43, 40.2]).range([141, 1122]);
const y = d3.scaleLinear().domain([-38.9, 38.9]).range([836, 70]);
const color = d3.scaleLinear()
    .domain([220, 7034])
    .range(["#bebebe", "#0000ff"])
    .interpolate(d3.interpolateLab);

const shape = d3.line()
    .x(d => x(d[0]))
    .y(d => y(d[1]))
    .curve(d3.curveCatmullRomClosed);

const vis = svg.append("g");

vis.selectAll(".outline")
    .data(outlines)
    .enter()
    .append("path")
    .attr("class", "outline")
    .attr("d", shape)
    .attr("fill", (d, i) => color(outlineGenes[i]));

vis.selectAll(".gap")
    .data(gaps)
    .enter()
    .append("path")
    .attr("class", "gap")
    .attr("d", shape)
    .attr("fill", "#fff");

vis.selectAll(".cell")
    .data(allCells)
    .enter()
    .append("circle")
    .attr("class", "cell")
    .attr("cx", d => x(d[0]))
    .attr("cy", d => y(d[1]))
    .attr("r", 4.5)
    .attr("fill", d => color(d[2]));

// Axes
const xAxis = svg.append("g")
    .attr("transform", "translate(0,836)")
    .call(d3.axisBottom(x).tickValues(xTicks).tickFormat(d => String(d)).tickSize(8).tickPadding(10).tickSizeOuter(0));
const yAxis = svg.append("g")
    .attr("transform", "translate(141,0)")
    .call(d3.axisLeft(y).tickValues(yTicks).tickFormat(d => String(d)).tickSize(8).tickPadding(10).tickSizeOuter(0));

[xAxis, yAxis].forEach(a => {
  a.selectAll("path, line").attr("stroke", "#000").attr("stroke-width", 2.2);
  a.selectAll("text").attr("font-size", 31.5).attr("font-family", '"Liberation Sans"').attr("fill", "#000");
});

svg.append("text")
    .attr("x", 631).attr("y", 49)
    .attr("text-anchor", "middle")
    .attr("font-size", 37).attr("font-weight", "bold")
    .text("nGene");
svg.append("text")
    .attr("x", 631).attr("y", 929)
    .attr("text-anchor", "middle")
    .attr("font-size", 36.5)
    .text("tSNE_1");
svg.append("text")
    .attr("transform", "translate(58,453) rotate(-90)")
    .attr("text-anchor", "middle")
    .attr("font-size", 36.5)
    .text("tSNE_2");

// Colour bar
const barY = d3.scaleLinear().domain([220, 7034]).range([576, 384]);
const defs = svg.append("defs");
const grad = defs.append("linearGradient")
    .attr("id", "bar")
    .attr("x1", 0).attr("x2", 0).attr("y1", 1).attr("y2", 0);
grad.selectAll("stop")
    .data(d3.range(0, 1.001, 0.05))
    .enter()
    .append("stop")
    .attr("offset", d => d)
    .attr("stop-color", d => color(220 + d * (7034 - 220)));

svg.append("text")
    .attr("x", 1180).attr("y", 362)
    .attr("font-size", 36.5)
    .text("nGene");
svg.append("rect")
    .attr("x", 1179).attr("y", 384)
    .attr("width", 38).attr("height", 192)
    .attr("fill", "url(#bar)");

const legendTick = svg.selectAll(".legend-tick")
    .data(legendTicks)
    .enter()
    .append("g")
    .attr("class", "legend-tick")
    .attr("transform", d => `translate(0,${barY(d)})`);
legendTick.append("line")
    .attr("x1", 1179).attr("x2", 1186.5)
    .attr("stroke", "#fff").attr("stroke-opacity", 0.8);
legendTick.append("line")
    .attr("x1", 1209.5).attr("x2", 1217)
    .attr("stroke", "#fff").attr("stroke-opacity", 0.8);
legendTick.append("text")
    .attr("x", 1235).attr("y", 11)
    .attr("font-size", 31.5)
    .text(d => d);
</script>
</body>
</html>
